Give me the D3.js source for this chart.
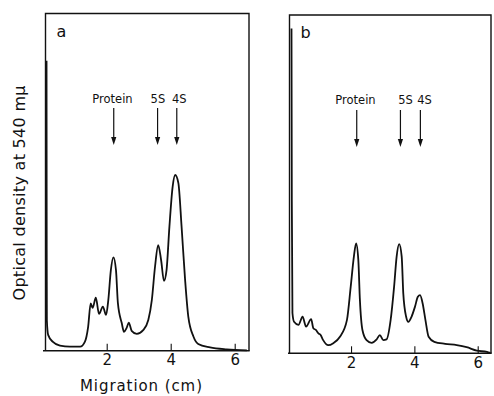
<!DOCTYPE html>
<html>
<head>
<meta charset="utf-8">
<script src="https://cdn.jsdelivr.net/npm/d3@7"></script>
<style>
  body { margin: 0; background: #fff; }
  svg { display: block; }
  text { font-family: "DejaVu Sans", sans-serif; fill: #111; }
</style>
</head>
<body>
<script>
// migration (cm) and optical density (relative units, 1 = top of frame)
const migA = [0.12, 0.125, 0.13, 0.17, 0.32, 0.54, 0.85, 1.17, 1.32, 1.42, 1.50, 1.56, 1.66, 1.76, 1.88, 1.98,
  2.05, 2.13, 2.21, 2.29, 2.35, 2.47, 2.54, 2.62, 2.69, 2.78, 2.94, 3.14, 3.30, 3.41, 3.51, 3.61,
  3.70, 3.79, 3.87, 3.96, 4.06, 4.14, 4.24, 4.34, 4.45, 4.55, 4.71, 4.86, 5.23, 5.75, 6.38];
const odA = [0.86, 0.30, 0.09, 0.047, 0.026, 0.015, 0.012, 0.012, 0.027, 0.071, 0.14, 0.127, 0.157, 0.109, 0.131, 0.106,
  0.150, 0.239, 0.277, 0.239, 0.141, 0.082, 0.056, 0.067, 0.083, 0.059, 0.050, 0.061, 0.091, 0.150, 0.249, 0.313,
  0.269, 0.207, 0.239, 0.368, 0.486, 0.521, 0.497, 0.368, 0.210, 0.101, 0.042, 0.020, 0.010, 0.004, 0.001];

const migB = [0.12, 0.13, 0.15, 0.20, 0.34, 0.47, 0.58, 0.74, 0.81, 0.89, 0.97, 1.04, 1.12, 1.28, 1.44, 1.65,
  1.87, 1.99, 2.09, 2.16, 2.23, 2.28, 2.36, 2.49, 2.65, 2.81, 2.91, 3.02, 3.12, 3.25, 3.36, 3.44,
  3.52, 3.60, 3.65, 3.74, 3.81, 3.91, 4.02, 4.11, 4.18, 4.26, 4.35, 4.45, 4.63, 4.97, 5.34, 5.65, 5.97, 6.29, 6.40];
const odB = [0.96, 0.45, 0.119, 0.093, 0.084, 0.108, 0.079, 0.101, 0.074, 0.069, 0.059, 0.054, 0.039, 0.024, 0.030, 0.049,
  0.098, 0.197, 0.286, 0.325, 0.276, 0.158, 0.069, 0.039, 0.031, 0.041, 0.054, 0.039, 0.041, 0.098, 0.197, 0.286,
  0.323, 0.286, 0.177, 0.108, 0.093, 0.108, 0.138, 0.167, 0.172, 0.148, 0.098, 0.049, 0.034, 0.028, 0.024, 0.018, 0.008, 0.004, 0.001];

const xTicks = [2, 4, 6];
const markerNames = ["Protein", "5S", "4S"];
const arrowsA = [2.22, 3.59, 4.19];
const labelsA = [2.18, 3.60, 4.27];
const arrowsB = [2.18, 3.56, 4.19];
const labelsB = [2.14, 3.72, 4.32];

const W = 494, H = 396;
const svg = d3.select("body").append("svg").attr("width", W).attr("height", H);

const panels = [
  { name: "a", mig: migA, od: odA, arrows: arrowsA, labels: labelsA,
    left: 45.5, right: 249, top: 13.5, bottom: 350.7, x0: 42.7, x6: 234.7, axisLeft: 43, textY: 103, arrowY: 108 },
  { name: "b", mig: migB, od: odB, arrows: arrowsB, labels: labelsB,
    left: 289.5, right: 491, top: 15, bottom: 353.3, x0: 287.7, x6: 477.7, axisLeft: 288, textY: 104, arrowY: 110 },
];

panels.forEach((p) => {
  const x = d3.scaleLinear().domain([0, 6]).range([p.x0, p.x6]);
  const y = d3.scaleLinear().domain([0, 1]).range([p.bottom, p.top]);
  const g = svg.append("g");

  // frame
  g.append("path")
    .attr("d", `M${p.left},${p.bottom} V${p.top} H${p.right} V${p.bottom}`)
    .attr("fill", "none").attr("stroke", "#111").attr("stroke-width", 1.4);
  g.append("line")
    .attr("x1", p.axisLeft).attr("x2", p.right + 0.7)
    .attr("y1", p.bottom).attr("y2", p.bottom)
    .attr("stroke", "#111").attr("stroke-width", 1.6);

  // axis ticks (inward)
  const ax = g.append("g")
    .attr("transform", `translate(0,${p.bottom})`)
    .call(d3.axisBottom(x).tickValues(xTicks).tickSize(-7).tickPadding(4).tickFormat(d3.format("d")));
  ax.select(".domain").remove();
  ax.selectAll(".tick line").attr("stroke", "#111").attr("stroke-width", 1.1);
  ax.selectAll(".tick text")
    .attr("font-size", 15).attr("font-family", "Liberation Sans, sans-serif").attr("fill", "#111");

  // curve
  const line = d3.line()
    .x((d, i) => x(p.mig[i]))
    .y((d) => y(d))
    .curve(d3.curveMonotoneX);
  g.append("path")
    .attr("d", line(p.od))
    .attr("fill", "none").attr("stroke", "#111").attr("stroke-width", 1.8)
    .attr("stroke-linejoin", "round");

  // panel letter
  g.append("text")
    .attr("x", p.left + 11).attr("y", p.name === "a" ? 37 : 38)
    .attr("font-size", 16)
    .text(p.name);

  // marker labels + arrows
  markerNames.forEach((m, i) => {
    g.append("text")
      .attr("x", x(p.labels[i])).attr("y", p.textY)
      .attr("text-anchor", "middle")
      .attr("font-size", 11.5)
      .text(m);
    const ax0 = x(p.arrows[i]);
    g.append("line")
      .attr("x1", ax0).attr("x2", ax0)
      .attr("y1", p.arrowY).attr("y2", p.arrowY + 30)
      .attr("stroke", "#111").attr("stroke-width", 1.2);
    g.append("path")
      .attr("d", `M${ax0 - 2.6},${p.arrowY + 29} L${ax0 + 2.6},${p.arrowY + 29} L${ax0},${p.arrowY + 37} Z`)
      .attr("fill", "#111");
  });
});

// axis titles
svg.append("text")
  .attr("x", 141).attr("y", 391)
  .attr("text-anchor", "middle")
  .attr("font-size", 15)
  .attr("textLength", 122).attr("lengthAdjust", "spacing")
  .text("Migration (cm)");

svg.append("text")
  .attr("transform", "translate(25,193) rotate(-90)")
  .attr("text-anchor", "middle")
  .attr("font-size", 16)
  .attr("textLength", 215).attr("lengthAdjust", "spacing")
  .text("Optical density at 540 mμ");
</script>
</body>
</html>
